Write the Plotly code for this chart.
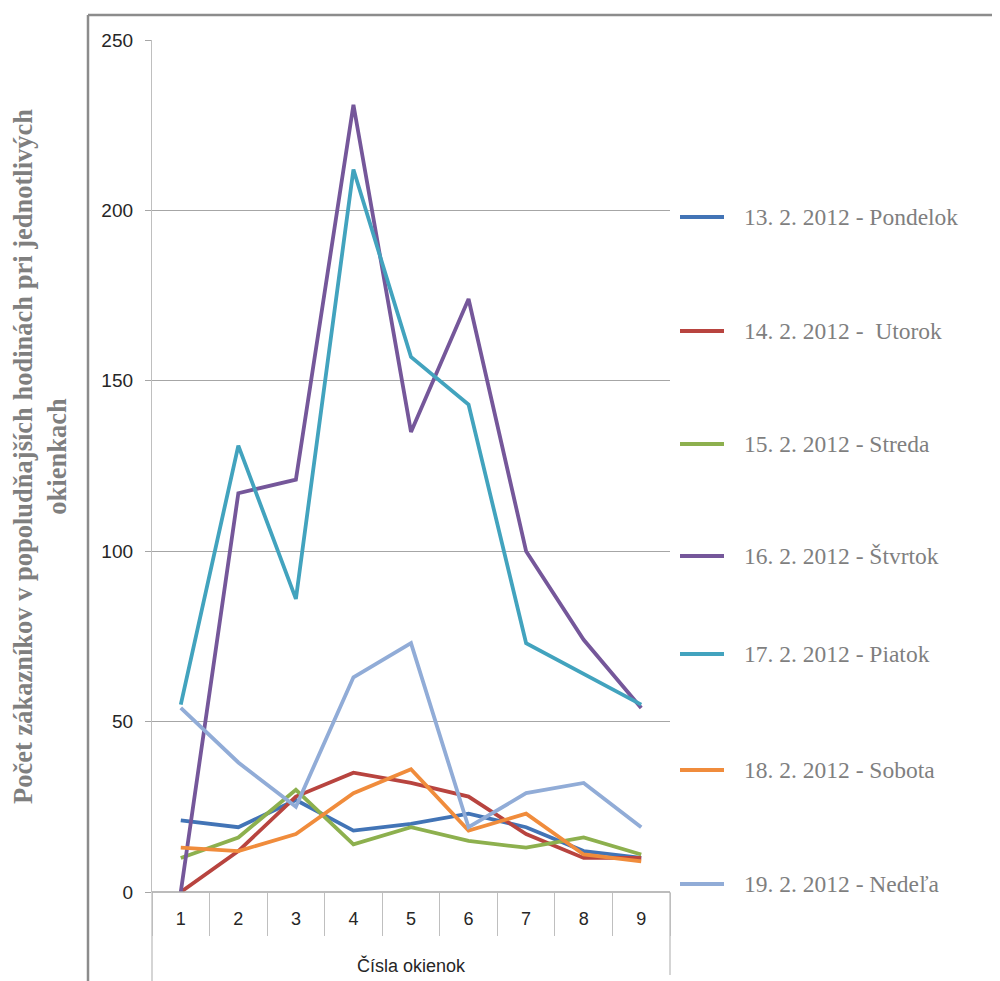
import plotly.graph_objects as go

# ---- data ----
okienka = [1, 2, 3, 4, 5, 6, 7, 8, 9]
series_names = [
    "13. 2. 2012 - Pondelok",
    "14. 2. 2012 -  Utorok",
    "15. 2. 2012 - Streda",
    "16. 2. 2012 - Štvrtok",
    "17. 2. 2012 - Piatok",
    "18. 2. 2012 - Sobota",
    "19. 2. 2012 - Nedeľa",
]
pondelok = [21, 19, 27, 18, 20, 23, 19, 12, 10]
utorok = [0, 12, 28, 35, 32, 28, 17, 10, 10]
streda = [10, 16, 30, 14, 19, 15, 13, 16, 11]
stvrtok = [0, 117, 121, 231, 135, 174, 100, 74, 54]
piatok = [55, 131, 86, 212, 157, 143, 73, 64, 55]
sobota = [13, 12, 17, 29, 36, 18, 23, 11, 9]
nedela = [54, 38, 25, 63, 73, 19, 29, 32, 19]
values = [pondelok, utorok, streda, stvrtok, piatok, sobota, nedela]
y_ticks = [0, 50, 100, 150, 200, 250]
x_title = "Čísla okienok"
y_title_lines = ["Počet zákazníkov v popoludňajších hodinách pri jednotlivých", "okienkach"]

colors = ["#4274B6", "#B8443F", "#8DB04E", "#75579A", "#42A3BE", "#F08C3C", "#91ACD7"]

OFF = 8  # page body margin
W, H = 1000, 981 - OFF
L, R, T, B = 152, 670, 40, 892  # plot area in reference page pixels


def px(x):
    return (x - L) / (R - L)


def py(y):
    return (B - y) / (B - T)


fig = go.Figure()
for name, vals, col in zip(series_names, values, colors):
    fig.add_trace(go.Scatter(x=okienka, y=vals, mode="lines", name=name,
                             line=dict(color=col, width=3.8), showlegend=False))

grid = "#A6A6A6"
fig.update_layout(
    width=W, height=H,
    margin=dict(l=L - OFF, r=W - (R - OFF), t=T - OFF, b=H - (B - OFF)),
    paper_bgcolor="white", plot_bgcolor="white",
    xaxis=dict(range=[0.5, 9.5], tickvals=okienka, ticktext=[str(v) for v in okienka],
               showgrid=False, zeroline=False, showline=False, ticks="",
               tickfont=dict(family="Liberation Sans", size=18, color="#262626"),
               ticklabelstandoff=14,
               minor=dict(tick0=0.5, dtick=1, ticks="outside", ticklen=43,
                          tickcolor="#BFBFBF", tickwidth=1)),
    yaxis=dict(range=[0, 250], tickvals=y_ticks, showgrid=True, gridcolor=grid, gridwidth=1.3,
               zeroline=False, showline=True, linecolor="#BFBFBF", linewidth=1.3,
               ticks="outside", ticklen=6, tickcolor=grid, tickwidth=1.3,
               ticklabelstandoff=8,
               tickfont=dict(family="Liberation Sans", size=19, color="#262626")),
    showlegend=False,
)

shapes = []
# outer frame
shapes.append(dict(type="line", xref="paper", yref="paper", x0=px(88), x1=px(1010), y0=py(15), y1=py(15),
                   line=dict(color="#8C8C8C", width=2.5)))
shapes.append(dict(type="line", xref="paper", yref="paper", x0=px(88), x1=px(88), y0=py(15), y1=py(985),
                   line=dict(color="#8C8C8C", width=2.5)))
# axis box extensions
shapes.append(dict(type="line", xref="paper", yref="paper", x0=0, x1=0, y0=0, y1=py(985),
                   line=dict(color="#BFBFBF", width=1.3)))
shapes.append(dict(type="line", xref="paper", yref="paper", x0=1, x1=1, y0=0, y1=py(975),
                   line=dict(color="#BFBFBF", width=1.3)))
# x axis line at 0
shapes.append(dict(type="line", xref="paper", yref="paper", x0=0, x1=1, y0=0, y1=0,
                   line=dict(color=grid, width=1.3)))

annotations = []
legend_y = [217, 331, 444, 556, 654, 770, 884]
for name, col, ly in zip(series_names, colors, legend_y):
    shapes.append(dict(type="line", xref="paper", yref="paper", x0=px(680), x1=px(724), y0=py(ly), y1=py(ly),
                       line=dict(color=col, width=3.8)))
    annotations.append(dict(xref="paper", yref="paper", x=px(742), y=py(ly), xanchor="left", yanchor="middle",
                            text=name.replace("  ", " \u00a0"), showarrow=False,
                            font=dict(family="Liberation Serif", size=23.5, color="#7F7F7F")))

annotations.append(dict(xref="paper", yref="paper", x=px(411), y=py(965), xanchor="center", yanchor="middle",
                        text=x_title, showarrow=False,
                        font=dict(family="Liberation Sans", size=18, color="#262626")))
annotations.append(dict(xref="paper", yref="paper", x=px(40), y=py(457), xanchor="center", yanchor="middle",
                        text="<b>" + "<br>".join(y_title_lines) + "</b>", showarrow=False, textangle=-90,
                        font=dict(family="Liberation Serif", size=26.5, color="#7F7F7F")))

fig.update_layout(shapes=shapes, annotations=annotations)
fig.write_html("out.html")
